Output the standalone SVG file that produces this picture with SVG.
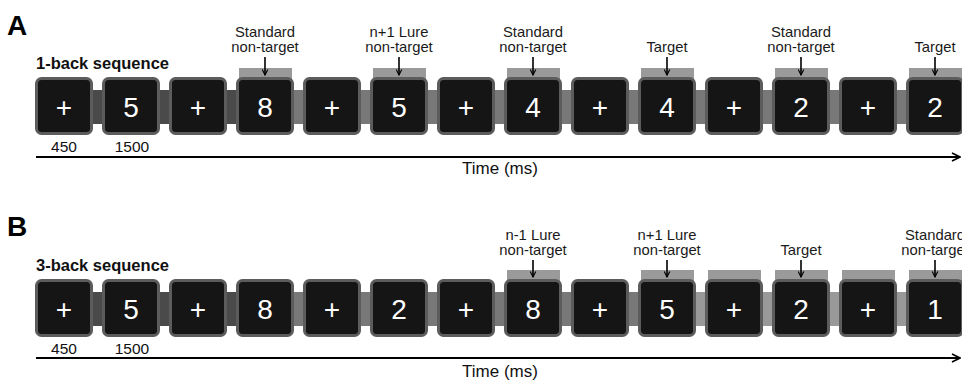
<svg xmlns="http://www.w3.org/2000/svg" width="962" height="384" viewBox="0 0 962 384">
<style>
  text { font-family: "Liberation Sans", Arial, sans-serif; }
  .box { fill: #151515; stroke: #5c5c5c; stroke-width: 3; }
  .d { fill: #ffffff; font-size: 28px; text-anchor: middle; }
  .lab { fill: #1a1a1a; font-size: 14.8px; text-anchor: middle; }
  .tab { fill: #9a9a9a; }
  .band1 { fill: #4a4a4a; }
  .band2 { fill: #787878; }
  .band3 { fill: #999999; }
  .ttl { font-size: 16.5px; font-weight: bold; fill: #111; }
  .big { font-size: 28px; font-weight: bold; fill: #000; }
  .num { font-size: 15.5px; fill: #111; text-anchor: middle; }
  .time { font-size: 17px; fill: #111; text-anchor: middle; }
  .ax { stroke: #000; stroke-width: 1.8; fill: none; }
  .arr { stroke: #000; stroke-width: 1.6; fill: none; }
</style>
<defs>
  <marker id="hd" viewBox="0 0 10 10" refX="9" refY="5" markerWidth="7" markerHeight="7" markerUnits="userSpaceOnUse" orient="auto">
    <path d="M1,1 L9,5 L1,9" fill="none" stroke="#000" stroke-width="1.6"/>
  </marker>
  <marker id="hs" viewBox="0 0 10 10" refX="9" refY="5" markerWidth="10" markerHeight="10" markerUnits="userSpaceOnUse" orient="auto">
    <path d="M1,1 L9,5 L1,9" fill="none" stroke="#000" stroke-width="1.6"/>
  </marker>
</defs>

<!-- Panel A -->
<text class="big" x="7" y="35">A</text>
<text class="ttl" x="36" y="69">1-back sequence</text>
<rect class="band1" x="90" y="90" width="150" height="34"/>
<rect class="band2" x="240" y="90" width="722" height="34"/>
<rect class="tab" x="239" y="68" width="53" height="12"/>
<rect class="tab" x="373" y="68" width="53" height="12"/>
<rect class="tab" x="507" y="68" width="53" height="12"/>
<rect class="tab" x="641" y="68" width="53" height="12"/>
<rect class="tab" x="775" y="68" width="53" height="12"/>
<rect class="tab" x="909" y="68" width="53" height="12"/>

<g id="a0"><rect class="box" x="36.5" y="78.5" width="55" height="55" rx="5"/><text class="d" x="64" y="117">+</text></g>
<g id="a1"><rect class="box" x="103.5" y="78.5" width="55" height="55" rx="5"/><text class="d" x="131" y="117">5</text></g>
<g id="a2"><rect class="box" x="170.5" y="78.5" width="55" height="55" rx="5"/><text class="d" x="198" y="117">+</text></g>
<g id="a3"><rect class="box" x="237.5" y="78.5" width="55" height="55" rx="5"/><text class="d" x="265" y="117">8</text></g>
<g id="a4"><rect class="box" x="304.5" y="78.5" width="55" height="55" rx="5"/><text class="d" x="332" y="117">+</text></g>
<g id="a5"><rect class="box" x="371.5" y="78.5" width="55" height="55" rx="5"/><text class="d" x="399" y="117">5</text></g>
<g id="a6"><rect class="box" x="438.5" y="78.5" width="55" height="55" rx="5"/><text class="d" x="466" y="117">+</text></g>
<g id="a7"><rect class="box" x="505.5" y="78.5" width="55" height="55" rx="5"/><text class="d" x="533" y="117">4</text></g>
<g id="a8"><rect class="box" x="572.5" y="78.5" width="55" height="55" rx="5"/><text class="d" x="600" y="117">+</text></g>
<g id="a9"><rect class="box" x="639.5" y="78.5" width="55" height="55" rx="5"/><text class="d" x="667" y="117">4</text></g>
<g id="a10"><rect class="box" x="706.5" y="78.5" width="55" height="55" rx="5"/><text class="d" x="734" y="117">+</text></g>
<g id="a11"><rect class="box" x="773.5" y="78.5" width="55" height="55" rx="5"/><text class="d" x="801" y="117">2</text></g>
<g id="a12"><rect class="box" x="840.5" y="78.5" width="55" height="55" rx="5"/><text class="d" x="868" y="117">+</text></g>
<g id="a13"><rect class="box" x="907.5" y="78.5" width="55" height="55" rx="5"/><text class="d" x="935" y="117">2</text></g>

<g id="labelsA">
  <text class="lab" x="265" y="37">Standard</text><text class="lab" x="265" y="52">non-target</text>
  <text class="lab" x="399" y="37">n+1 Lure</text><text class="lab" x="399" y="52">non-target</text>
  <text class="lab" x="533" y="37">Standard</text><text class="lab" x="533" y="52">non-target</text>
  <text class="lab" x="667" y="52">Target</text>
  <text class="lab" x="801" y="37">Standard</text><text class="lab" x="801" y="52">non-target</text>
  <text class="lab" x="935" y="52">Target</text>
  <text class="num" x="64" y="152">450</text>
  <text class="num" x="132" y="152">1500</text>
  <text class="time" x="500" y="174">Time (ms)</text>
</g>

<!-- Panel B -->
<text class="big" x="7" y="236">B</text>
<text class="ttl" x="36" y="271">3-back sequence</text>
<rect class="band1" x="90" y="292" width="150" height="34"/>
<rect class="band2" x="240" y="292" width="401" height="34"/>
<rect class="band3" x="641" y="292" width="321" height="34"/>
<rect class="tab" x="507" y="270" width="53" height="12"/>
<rect class="tab" x="641" y="270" width="53" height="12"/>
<rect class="tab" x="708" y="270" width="53" height="12"/>
<rect class="tab" x="775" y="270" width="53" height="12"/>
<rect class="tab" x="842" y="270" width="53" height="12"/>
<rect class="tab" x="909" y="270" width="53" height="12"/>

<g id="b0"><rect class="box" x="36.5" y="280.5" width="55" height="55" rx="5"/><text class="d" x="64" y="319">+</text></g>
<g id="b1"><rect class="box" x="103.5" y="280.5" width="55" height="55" rx="5"/><text class="d" x="131" y="319">5</text></g>
<g id="b2"><rect class="box" x="170.5" y="280.5" width="55" height="55" rx="5"/><text class="d" x="198" y="319">+</text></g>
<g id="b3"><rect class="box" x="237.5" y="280.5" width="55" height="55" rx="5"/><text class="d" x="265" y="319">8</text></g>
<g id="b4"><rect class="box" x="304.5" y="280.5" width="55" height="55" rx="5"/><text class="d" x="332" y="319">+</text></g>
<g id="b5"><rect class="box" x="371.5" y="280.5" width="55" height="55" rx="5"/><text class="d" x="399" y="319">2</text></g>
<g id="b6"><rect class="box" x="438.5" y="280.5" width="55" height="55" rx="5"/><text class="d" x="466" y="319">+</text></g>
<g id="b7"><rect class="box" x="505.5" y="280.5" width="55" height="55" rx="5"/><text class="d" x="533" y="319">8</text></g>
<g id="b8"><rect class="box" x="572.5" y="280.5" width="55" height="55" rx="5"/><text class="d" x="600" y="319">+</text></g>
<g id="b9"><rect class="box" x="639.5" y="280.5" width="55" height="55" rx="5"/><text class="d" x="667" y="319">5</text></g>
<g id="b10"><rect class="box" x="706.5" y="280.5" width="55" height="55" rx="5"/><text class="d" x="734" y="319">+</text></g>
<g id="b11"><rect class="box" x="773.5" y="280.5" width="55" height="55" rx="5"/><text class="d" x="801" y="319">2</text></g>
<g id="b12"><rect class="box" x="840.5" y="280.5" width="55" height="55" rx="5"/><text class="d" x="868" y="319">+</text></g>
<g id="b13"><rect class="box" x="907.5" y="280.5" width="55" height="55" rx="5"/><text class="d" x="935" y="319">1</text></g>

<g id="labelsB">
  <text class="lab" x="533" y="240">n-1 Lure</text><text class="lab" x="533" y="255">non-target</text>
  <text class="lab" x="667" y="240">n+1 Lure</text><text class="lab" x="667" y="255">non-target</text>
  <text class="lab" x="801" y="255">Target</text>
  <text class="lab" x="935" y="240">Standard</text><text class="lab" x="935" y="255">non-target</text>
  <text class="num" x="64" y="354">450</text>
  <text class="num" x="132" y="354">1500</text>
  <text class="time" x="500" y="377">Time (ms)</text>
</g>

<g id="connectors">
  <line class="ax" x1="36" y1="157" x2="960" y2="157" marker-end="url(#hs)"/>
  <line class="ax" x1="36" y1="358" x2="960" y2="358" marker-end="url(#hs)"/>
  <line class="arr" x1="265" y1="57" x2="265" y2="75" marker-end="url(#hd)"/>
  <line class="arr" x1="399" y1="57" x2="399" y2="75" marker-end="url(#hd)"/>
  <line class="arr" x1="533" y1="57" x2="533" y2="75" marker-end="url(#hd)"/>
  <line class="arr" x1="667" y1="57" x2="667" y2="75" marker-end="url(#hd)"/>
  <line class="arr" x1="801" y1="57" x2="801" y2="75" marker-end="url(#hd)"/>
  <line class="arr" x1="935" y1="57" x2="935" y2="75" marker-end="url(#hd)"/>
  <line class="arr" x1="533" y1="260" x2="533" y2="277" marker-end="url(#hd)"/>
  <line class="arr" x1="667" y1="260" x2="667" y2="277" marker-end="url(#hd)"/>
  <line class="arr" x1="801" y1="260" x2="801" y2="277" marker-end="url(#hd)"/>
  <line class="arr" x1="935" y1="260" x2="935" y2="277" marker-end="url(#hd)"/>
</g>
</svg>
